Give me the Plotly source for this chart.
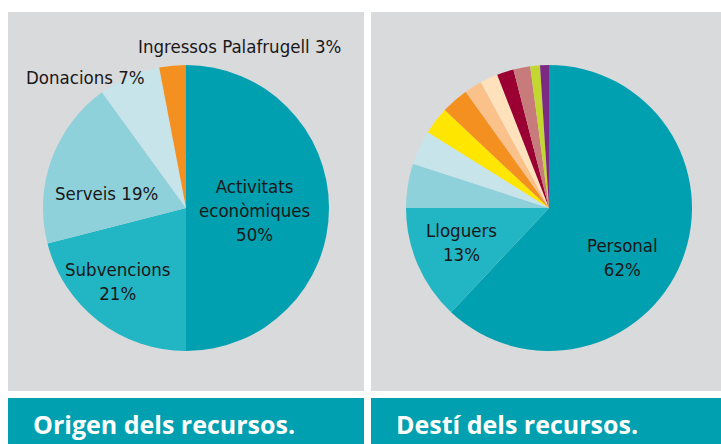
import plotly.graph_objects as go

# Origen dels recursos
origen_labels = ["Activitats econòmiques", "Subvencions", "Serveis", "Donacions", "Ingressos Palafrugell"]
origen_values = [50, 21, 19, 7, 3]
origen_colors = ["#00A0B0", "#22B5C4", "#8ED1DA", "#C6E4EA", "#F39020"]

# Destí dels recursos (only the two big slices are labelled)
desti_labels = ["Personal", "Lloguers", "Altres 1", "Altres 2", "Altres 3", "Altres 4",
                "Altres 5", "Altres 6", "Altres 7", "Altres 8", "Altres 9", "Altres 10"]
desti_values = [62, 13, 5.0, 3.9, 3.1, 3.1, 2.0, 2.0, 1.9, 1.9, 1.1, 1.0]
desti_colors = ["#00A0B0", "#22B5C4", "#8ED1DA", "#C6E4EA", "#FFE600", "#F39020",
                "#FBC18A", "#FFE2BC", "#9B0033", "#C87B7B", "#C2D72F", "#7B2A83"]

titles = ["Origen dels recursos.", "Destí dels recursos."]

W, H = 721, 444
GREY = "#D9DADC"
TEAL = "#00A0B0"
TXT = "#1A1718"
LABEL_FONT = "DejaVu Sans Condensed, Roboto, sans-serif"


def px_x(x):
    return x / W


def px_y(y):
    return 1 - y / H


fig = go.Figure()

fig.add_trace(go.Pie(
    labels=origen_labels, values=origen_values,
    marker=dict(colors=origen_colors, line=dict(width=0)),
    sort=False, direction="clockwise", rotation=0,
    textinfo="none", hoverinfo="label+percent",
    domain=dict(x=[px_x(43), px_x(329)], y=[px_y(351), px_y(65)]),
    showlegend=False,
))
fig.add_trace(go.Pie(
    labels=desti_labels, values=desti_values,
    marker=dict(colors=desti_colors, line=dict(width=0)),
    sort=False, direction="clockwise", rotation=0,
    textinfo="none", hoverinfo="label+percent",
    domain=dict(x=[px_x(406), px_x(692)], y=[px_y(351), px_y(65)]),
    showlegend=False,
))

# panels and title bars
panels = [(8, 364), (371, 721)]
shapes = []
for x0, x1 in panels:
    shapes.append(dict(type="rect", xref="paper", yref="paper", layer="below",
                       x0=px_x(x0), x1=px_x(x1), y0=px_y(391), y1=px_y(12),
                       fillcolor=GREY, line=dict(width=0)))
    shapes.append(dict(type="rect", xref="paper", yref="paper", layer="below",
                       x0=px_x(x0), x1=px_x(x1), y0=0, y1=px_y(398),
                       fillcolor=TEAL, line=dict(width=0)))

annotations = []
for (x0, x1), t in zip(panels, titles):
    annotations.append(dict(text="<b>" + t + "</b>", x=px_x(x0 + 23), y=px_y(424),
                            xref="paper", yref="paper", xanchor="left", yanchor="middle",
                            showarrow=False,
                            font=dict(family="Open Sans, Noto Sans, sans-serif", size=25, color="white")))


def pct(v):
    return f"{round(v)}%"


# slice labels: (text, centre x, centre y) in pixels
slice_labels = [
    (f"Activitats<br>econòmiques<br>{pct(origen_values[0])}", 254, 211),
    (f"{origen_labels[1]}<br>{pct(origen_values[1])}", 118, 281),
    (f"{origen_labels[2]} {pct(origen_values[2])}", 106, 193),
    (f"{origen_labels[3]} {pct(origen_values[3])}", 85, 78),
    (f"{origen_labels[4]} {pct(origen_values[4])}", 239, 46),
    (f"{desti_labels[1]}<br>{pct(desti_values[1])}", 461, 242),
    (f"{desti_labels[0]}<br>{pct(desti_values[0])}", 622, 257),
]
for text, x, y in slice_labels:
    annotations.append(dict(text=text, x=px_x(x), y=px_y(y), xref="paper", yref="paper",
                            xanchor="center", yanchor="middle", showarrow=False,
                            font=dict(family=LABEL_FONT, size=18.5, color=TXT)))

fig.update_layout(
    width=W, height=H,
    margin=dict(l=0, r=0, t=0, b=0),
    paper_bgcolor="white", plot_bgcolor="white",
    shapes=shapes, annotations=annotations,
)

fig.write_html("out.html", config={"displayModeBar": False},
               post_script="document.body.style.margin='0';document.body.style.overflow='hidden';")
